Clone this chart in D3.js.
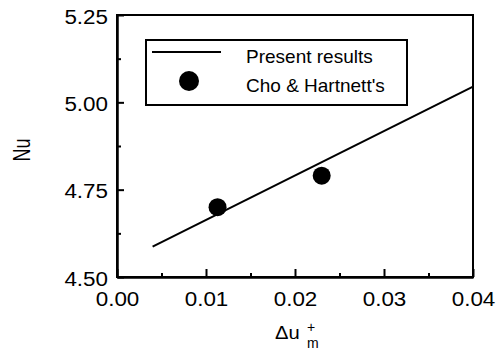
<!DOCTYPE html>
<html>
<head>
<meta charset="utf-8">
<script src="https://cdn.jsdelivr.net/npm/d3@7"></script>
<style>
  body { margin: 0; background: #fff; }
  svg { display: block; font-family: "Liberation Sans", Arial, sans-serif; }
</style>
</head>
<body>
<div id="chart"></div>
<script>
// present results (straight line) and Cho & Hartnett's points
const lineDu = [0.004, 0.04];
const lineNu = [4.587, 5.045];
const choDu = [0.0113, 0.023];
const choNu = [4.70, 4.79];

const xMajor = [0.00, 0.01, 0.02, 0.03, 0.04];
const xMinor = [0.005, 0.015, 0.025, 0.035];
const yMajor = [4.50, 4.75, 5.00, 5.25];
const yMinor = [4.625, 4.875, 5.125];

const legendLabels = ['Present results', "Cho & Hartnett's"];

const W = 501, H = 351;
const margin = { top: 15, right: 28, bottom: 74, left: 117 };
const width = W - margin.left - margin.right;
const height = H - margin.top - margin.bottom;

const svg = d3.select('#chart').append('svg')
  .attr('width', W)
  .attr('height', H);

const g = svg.append('g')
  .attr('transform', `translate(${margin.left},${margin.top})`);

const x = d3.scaleLinear().domain([0, 0.04]).range([0, width]);
const y = d3.scaleLinear().domain([4.5, 5.25]).range([height, 0]);

// text in the scan is wider than the font, stretch it a bit
function stretch(sel, f) {
  sel.each(function () {
    const w = this.getComputedTextLength();
    d3.select(this).attr('textLength', w * f).attr('lengthAdjust', 'spacingAndGlyphs');
  });
}

// frame
g.append('rect')
  .attr('width', width)
  .attr('height', height)
  .attr('fill', 'none')
  .attr('stroke', '#000')
  .attr('stroke-width', 2);

// x axis, ticks pointing inwards
const xAxis = g.append('g')
  .attr('transform', `translate(0,${height})`)
  .call(d3.axisBottom(x).tickValues(xMajor).tickFormat(d3.format('.2f'))
    .tickSizeInner(-8).tickSizeOuter(0).tickPadding(15));
xAxis.select('.domain').attr('stroke-width', 2.5);
xAxis.selectAll('line').attr('stroke-width', 2);
xAxis.selectAll('text')
  .attr('font-size', 20)
  .attr('fill', '#000')
  .call(stretch, 1.12);

g.append('g')
  .attr('transform', `translate(0,${height})`)
  .call(d3.axisBottom(x).tickValues(xMinor).tickFormat('')
    .tickSizeInner(-4).tickSizeOuter(0))
  .call(a => a.select('.domain').remove())
  .selectAll('line').attr('stroke-width', 2);

// y axis
const yAxis = g.append('g')
  .call(d3.axisLeft(y).tickValues(yMajor).tickFormat(d3.format('.2f'))
    .tickSizeInner(-7).tickSizeOuter(0).tickPadding(9));
yAxis.select('.domain').attr('stroke-width', 2.5);
yAxis.selectAll('line').attr('stroke-width', 2);
yAxis.selectAll('text')
  .attr('font-size', 20)
  .attr('fill', '#000')
  .attr('dy', '0.4em')
  .call(stretch, 1.12);

g.append('g')
  .call(d3.axisLeft(y).tickValues(yMinor).tickFormat('')
    .tickSizeInner(-4).tickSizeOuter(0))
  .call(a => a.select('.domain').remove())
  .selectAll('line').attr('stroke-width', 2);

// present results
const line = d3.line()
  .x((d, i) => x(lineDu[i]))
  .y(d => y(d));

g.append('path')
  .datum(lineNu)
  .attr('d', line)
  .attr('fill', 'none')
  .attr('stroke', '#000')
  .attr('stroke-width', 2);

// Cho & Hartnett's
g.selectAll('circle.cho')
  .data(choNu)
  .enter()
  .append('circle')
  .attr('class', 'cho')
  .attr('cx', (d, i) => x(choDu[i]))
  .attr('cy', d => y(d))
  .attr('r', 9)
  .attr('fill', '#000');

// legend
const legend = svg.append('g').attr('transform', 'translate(146,40)');
legend.append('rect')
  .attr('width', 261)
  .attr('height', 65)
  .attr('fill', '#fff')
  .attr('stroke', '#000')
  .attr('stroke-width', 2);
legend.append('line')
  .attr('x1', 6).attr('x2', 75)
  .attr('y1', 12).attr('y2', 12)
  .attr('stroke', '#000')
  .attr('stroke-width', 2);
legend.append('circle')
  .attr('cx', 43).attr('cy', 41)
  .attr('r', 10)
  .attr('fill', '#000');
legend.selectAll('text')
  .data(legendLabels)
  .enter()
  .append('text')
  .attr('x', 100)
  .attr('y', (d, i) => 23 + i * 29)
  .attr('font-size', 19)
  .attr('fill', '#000')
  .text(d => d);

// axis titles
svg.append('text')
  .attr('transform', 'translate(30,150) rotate(-90) scale(1,1.3)')
  .attr('text-anchor', 'middle')
  .attr('font-size', 18)
  .attr('fill', '#000')
  .text('Nu');

const xt = svg.append('g').attr('transform', 'translate(275,339)');
xt.append('text')
  .attr('font-size', 18)
  .attr('fill', '#000')
  .text('\u0394u')
  .call(stretch, 1.12);
xt.append('text')
  .attr('x', 32).attr('y', -7)
  .attr('font-size', 14)
  .attr('fill', '#000')
  .text('+');
xt.append('text')
  .attr('x', 32).attr('y', 9)
  .attr('font-size', 14)
  .attr('fill', '#000')
  .text('m');
</script>
</body>
</html>
